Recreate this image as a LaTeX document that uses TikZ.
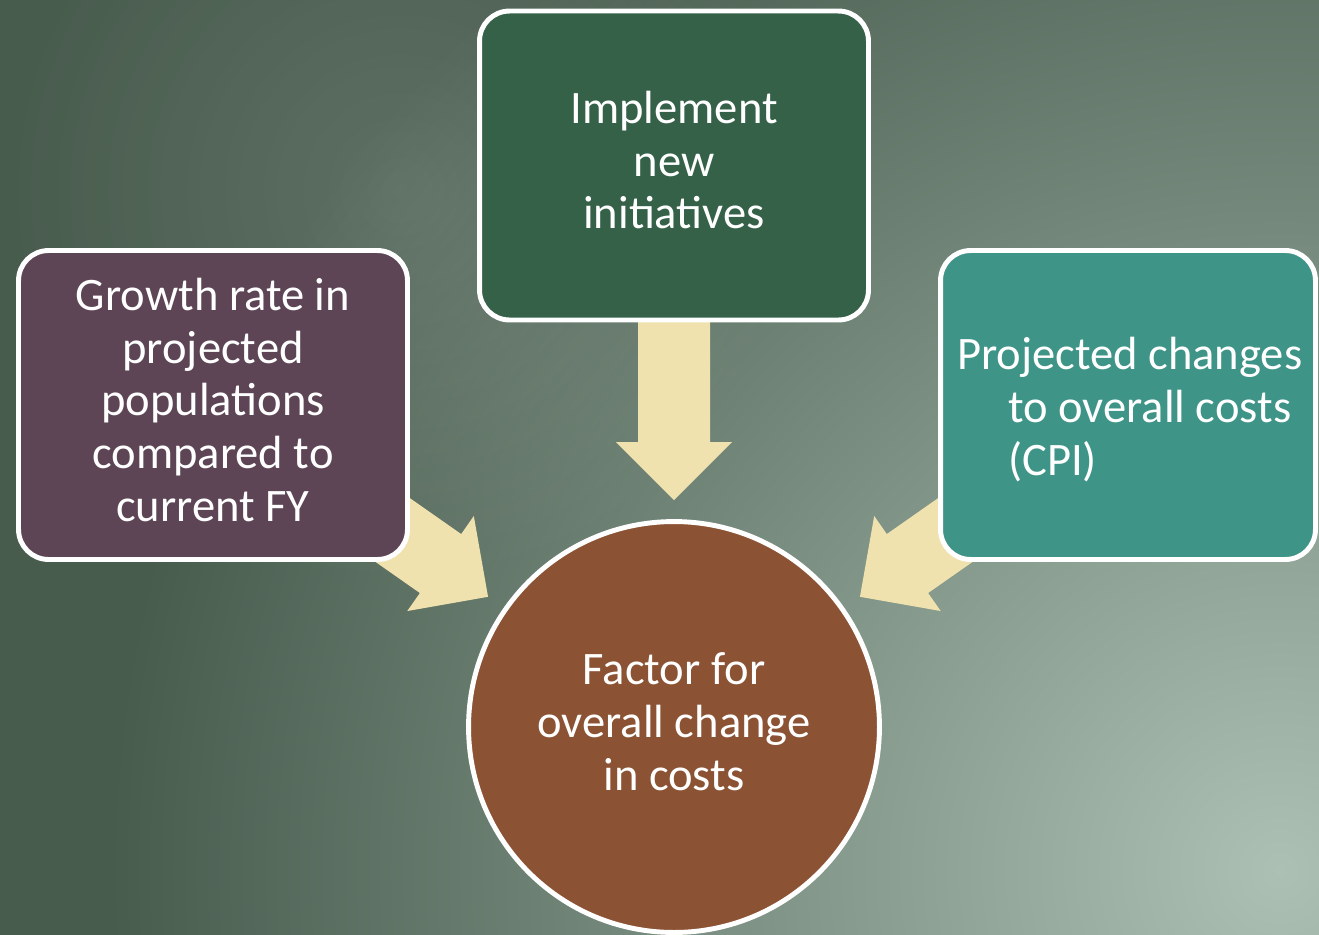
\documentclass[tikz,border=0pt]{standalone}
\usepackage{fontspec}
\setmainfont{Carlito}
\usepackage{tikz}
\usetikzlibrary{fadings}
\tikzfading[name=glow, inner color=transparent!0, outer color=transparent!100]
\tikzset{b/.style={draw=white, line width=2.8pt, rounded corners=0.6cm, minimum width=7.78cm, minimum height=6.18cm, inner sep=0pt}}
\tikzset{c/.style={circle, draw=white, line width=2.8pt, minimum size=8.22cm, inner sep=0pt}}
\tikzset{t/.style={text=white, align=center, inner sep=0pt, font=\fontsize{26.5}{30}\selectfont}}
\tikzset{fat/.style={fill=cream}}
\definecolor{bgdark}{RGB}{72,92,78}
\definecolor{bglight}{RGB}{172,192,180}
\definecolor{plum}{RGB}{93,69,85}
\definecolor{pine}{RGB}{53,97,72}
\definecolor{sea}{RGB}{63,148,136}
\definecolor{rust}{RGB}{139,83,52}
\definecolor{cream}{RGB}{240,226,174}

\begin{document}
\begin{tikzpicture}[x=0.02cm, y=0.02cm]
        \useasboundingbox (0,0) rectangle (1319,-934);
        \begin{scope}
          \clip (-10,10) rectangle (1329,-944);
          \fill [bgdark] (-10,10) rectangle (1329,-944);
          \shade [inner color=bglight, outer color=bgdark] (1280,-870) circle (1170);
          \fill [white, opacity=0.12, path fading=glow] (400,-190) circle (400);
        \end{scope}
        \node [c, fill=rust] (F) at (674,-727) {};
        % fat arrows into the circle
        \foreach \a in {90,145,35}
          \fill [fat, shift={(F.center)}, rotate=\a] (227,0) -- (285,58) -- (285,36) -- (420,36)
            -- (420,-36) -- (285,-36) -- (285,-58) -- cycle;
        \node [b, fill=plum] (G) at (213,-405) {};
        \node [b, fill=pine] (I) at (674,-165.5) {};
        \node [b, fill=sea, minimum width=7.5cm] (P) at (1128,-405) {};
        \node [t] (Ft) at ([yshift=3pt]F.center) {Factor for\\overall change\\in costs};
        \node [t] (Gt) at ([yshift=3pt]G.center) {Growth rate in\\projected\\populations\\compared to\\current FY};
        \node [t] (It) at ([yshift=3pt]I.center) {Implement\\new\\initiatives};
        \node [t, align=left] (Pt) at ([xshift=1pt, yshift=-2.5pt]P.center)
          {Projected changes\\\hspace{29pt}to overall costs\\\hspace{29pt}(CPI)};
\end{tikzpicture}
\end{document}
